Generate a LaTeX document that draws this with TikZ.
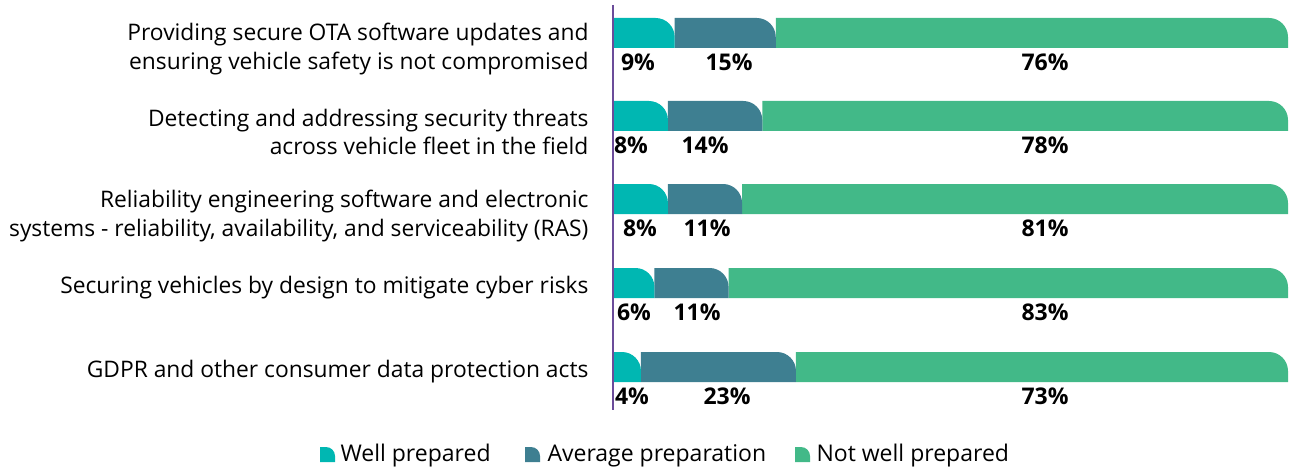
\documentclass[tikz,border=0pt]{standalone}
\usepackage{fontspec}
\setmainfont{Open Sans}
\definecolor{wellprep}{RGB}{0,183,178}
\definecolor{avgprep}{RGB}{62,127,145}
\definecolor{notprep}{RGB}{66,185,136}
\definecolor{axisline}{RGB}{107,76,154}
\tikzset{
  cat/.style={anchor=east, align=right, font=\fontsize{22.8}{28.5}\selectfont},
  pct/.style={font=\bfseries\fontsize{23}{26}\selectfont},
  key/.style={anchor=west, font=\fontsize{23}{26}\selectfont},
}
% one piece of a bar: colour, left, right, top
\newcommand{\segment}[4]{%
  \fill[#1] (#2,#4+30) -- (#2,#4) -- ({#3-19},#4)
    arc[start angle=90,end angle=0,radius=19pt] -- (#3,#4+30) -- cycle;}
% legend mark: colour, left, top
\newcommand{\keymark}[3]{%
  \fill[#1] (#2,#3+15) -- (#2,#3) -- ({#2+6},#3)
    arc[start angle=90,end angle=0,radius=9pt] -- ({#2+15},#3+15) -- cycle;}
\begin{document}
\begin{tikzpicture}[x=1pt,y=-1pt]
\useasboundingbox (0,0) rectangle (1290,468);
\coordinate (axtop) at (612.5,5);
\coordinate (axbot) at (612.5,410);
\foreach \i/\t/\a/\b/\la/\lb/\lc/\ty/\txt in {
  1/18/9/15/638/729/76/49/{Providing secure OTA software updates and\\ensuring vehicle safety is not compromised},
  2/101/8/14/631/705/78/132/{Detecting and addressing security threats\\across vehicle fleet in the field},
  3/184/8/11/640/707/81/216/{Reliability engineering software and electronic\\systems - reliability, availability, and serviceability (RAS)},
  4/268/6/11/634/697/83/288/{Securing vehicles by design to mitigate cyber risks},
  5/352/4/23/632/727/73/372/{GDPR and other consumer data protection acts}}
{
  \pgfmathsetmacro\xa{614+6.74*\a}
  \pgfmathsetmacro\xb{614+6.74*(\a+\b)}
  \segment{notprep}{\xb}{1288}{\t}
  \segment{avgprep}{\xa}{\xb}{\t}
  \segment{wellprep}{614}{\xa}{\t}
  \node[cat] (cat\i) at (592,\ty) {\txt};
  \node[pct] (pa\i) at (\la,\t+44) {\a\%};
  \node[pct] (pb\i) at (\lb,\t+44) {\b\%};
  \node[pct] (pc\i) at (1045,\t+44) {\lc\%};
}
\draw[axisline, line width=2pt] (axtop) -- (axbot);
% legend
\keymark{wellprep}{320}{447}
\node[key] (kwell) at (337,456) {Well prepared};
\keymark{avgprep}{525}{447}
\node[key] (kavg) at (544,456) {Average preparation};
\keymark{notprep}{795}{447}
\node[key] (knot) at (813,456) {Not well prepared};
\end{tikzpicture}
\end{document}
